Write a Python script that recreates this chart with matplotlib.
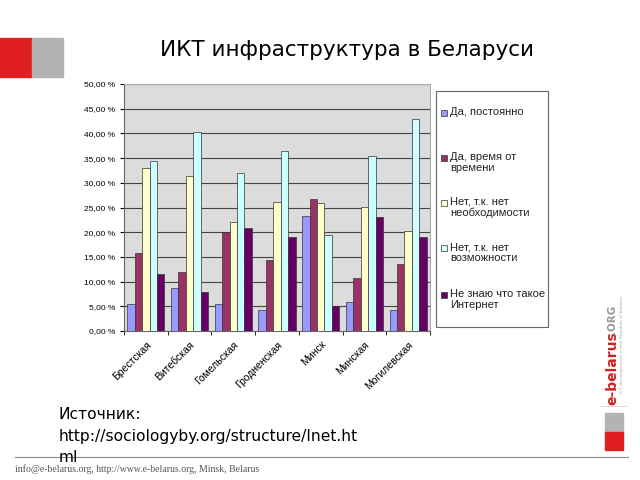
import numpy as np
import matplotlib
matplotlib.use('Agg')
import matplotlib.pyplot as plt
from matplotlib.patches import Rectangle
from matplotlib.ticker import FuncFormatter

# regions and answer categories
regions = ['Брестская', 'Витебская', 'Гомельская', 'Гродненская', 'Минск', 'Минская', 'Могилевская']
series_names = ['Да, постоянно', 'Да, время от\nвремени', 'Нет, т.к. нет\nнеобходимости',
                'Нет, т.к. нет\nвозможности', 'Не знаю что такое\nИнтернет']
always = [5.5, 8.7, 5.5, 4.3, 23.3, 5.9, 4.2]
sometimes = [15.8, 12.0, 20.0, 14.4, 26.8, 10.7, 13.6]
no_need = [32.9, 31.3, 22.0, 26.1, 25.9, 25.1, 20.3]
no_access = [34.5, 40.2, 31.9, 36.4, 19.4, 35.4, 43.0]
dont_know = [11.5, 7.9, 20.9, 19.1, 5.1, 23.0, 19.1]
colors = ['#9999FF', '#993366', '#FFFFCC', '#CCFFFF', '#660066']

fig = plt.figure(figsize=(6.4, 4.8), dpi=100)

def px(x, y):
    return x / 640, 1 - y / 480

# slide decorations
fig.patches.append(Rectangle(px(0, 77), 32/640, 39/480, transform=fig.transFigure, color='#E02020'))
fig.patches.append(Rectangle(px(32, 77), 31/640, 39/480, transform=fig.transFigure, color='#B3B3B3'))
fig.text(*px(347, 50), 'ИКТ инфраструктура в Беларуси', fontsize=15.5, ha='center', va='center')

ax = fig.add_axes([124/640, 1 - 331/480, 306/640, 247/480])
ax.set_facecolor('#DCDCDC')
data = [always, sometimes, no_need, no_access, dont_know]
x = np.arange(len(regions))
w = 0.17
for i, (vals, c) in enumerate(zip(data, colors)):
    ax.bar(x + (i - 2) * w, vals, w, color=c, edgecolor='#333333', linewidth=0.5, zorder=3)

ax.set_ylim(0, 50)
ax.set_xlim(-0.5, len(regions) - 0.5)
ax.set_yticks(np.arange(0, 51, 5))
ax.yaxis.set_major_formatter(FuncFormatter(lambda v, p: f'{v:.2f}'.replace('.', ',') + ' %'))
ax.tick_params(axis='y', labelsize=6, length=3)
for t in ax.get_yticklabels():
    t.set_family('Liberation Sans')
ax.grid(axis='y', color='#444444', linewidth=0.8, zorder=1)
ax.set_xticks(x)
ax.set_xticklabels(regions, rotation=45, ha='right', rotation_mode='anchor', fontsize=7.5,
                   family='Liberation Sans')
ax.set_xticks(np.arange(-0.5, len(regions)), minor=True)
ax.tick_params(axis='x', which='major', length=0, pad=6)
ax.tick_params(axis='x', which='minor', length=3)
for s in ['top', 'right']:
    ax.spines[s].set_color('#AAAAAA')
ax.spines['left'].set_color('#666666')
ax.spines['bottom'].set_color('#666666')

# legend box drawn like the Excel one
fig.patches.append(Rectangle(px(436, 327), 112/640, 236/480, transform=fig.transFigure,
                             facecolor='white', edgecolor='#666666', linewidth=0.8))
entry_y = [113, 158, 203, 248, 295]
for name, c, y in zip(series_names, colors, entry_y):
    fig.patches.append(Rectangle(px(441, y + 3), 6/640, 6/480, transform=fig.transFigure,
                                 facecolor=c, edgecolor='#333333', linewidth=0.5))
    fig.text(*px(450, y - 6), name, fontsize=8, family='Liberation Sans', ha='left', va='top',
             linespacing=1.1, color='#222222')

# source note
fig.text(*px(59, 407), 'Источник:\nhttp://sociologyby.org/structure/Inet.ht\nml',
         fontsize=11.2, ha='left', va='top', linespacing=1.55)
fig.add_artist(plt.Line2D([15/640, 628/640], [1 - 457/480] * 2, color='#888888', linewidth=0.8))
fig.text(*px(15, 469), 'info@e-belarus.org, http://www.e-belarus.org, Minsk, Belarus',
         fontsize=7, family='Liberation Serif', color='#555555', ha='left', va='center')

# side logo
fig.text(*px(612, 368), 'e-belarus', rotation=90, fontsize=10, fontweight='bold',
         color='#D02020', ha='center', va='center')
fig.text(*px(612, 319), '.ORG', rotation=90, fontsize=7.5, fontweight='bold',
         color='#999999', ha='center', va='center')
fig.text(*px(622, 345), 'ICT developments in the Republic of Belarus', rotation=90, fontsize=3.2,
         color='#AAAAAA', ha='center', va='center')
fig.add_artist(plt.Line2D([600/640, 626/640], [1 - 406/480] * 2, color='#DDDDDD', linewidth=0.8))
fig.patches.append(Rectangle(px(605, 432), 18/640, 19/480, transform=fig.transFigure, color='#B3B3B3'))
fig.patches.append(Rectangle(px(605, 450), 18/640, 18/480, transform=fig.transFigure, color='#E02020'))

fig.savefig('out.png', dpi=100)
